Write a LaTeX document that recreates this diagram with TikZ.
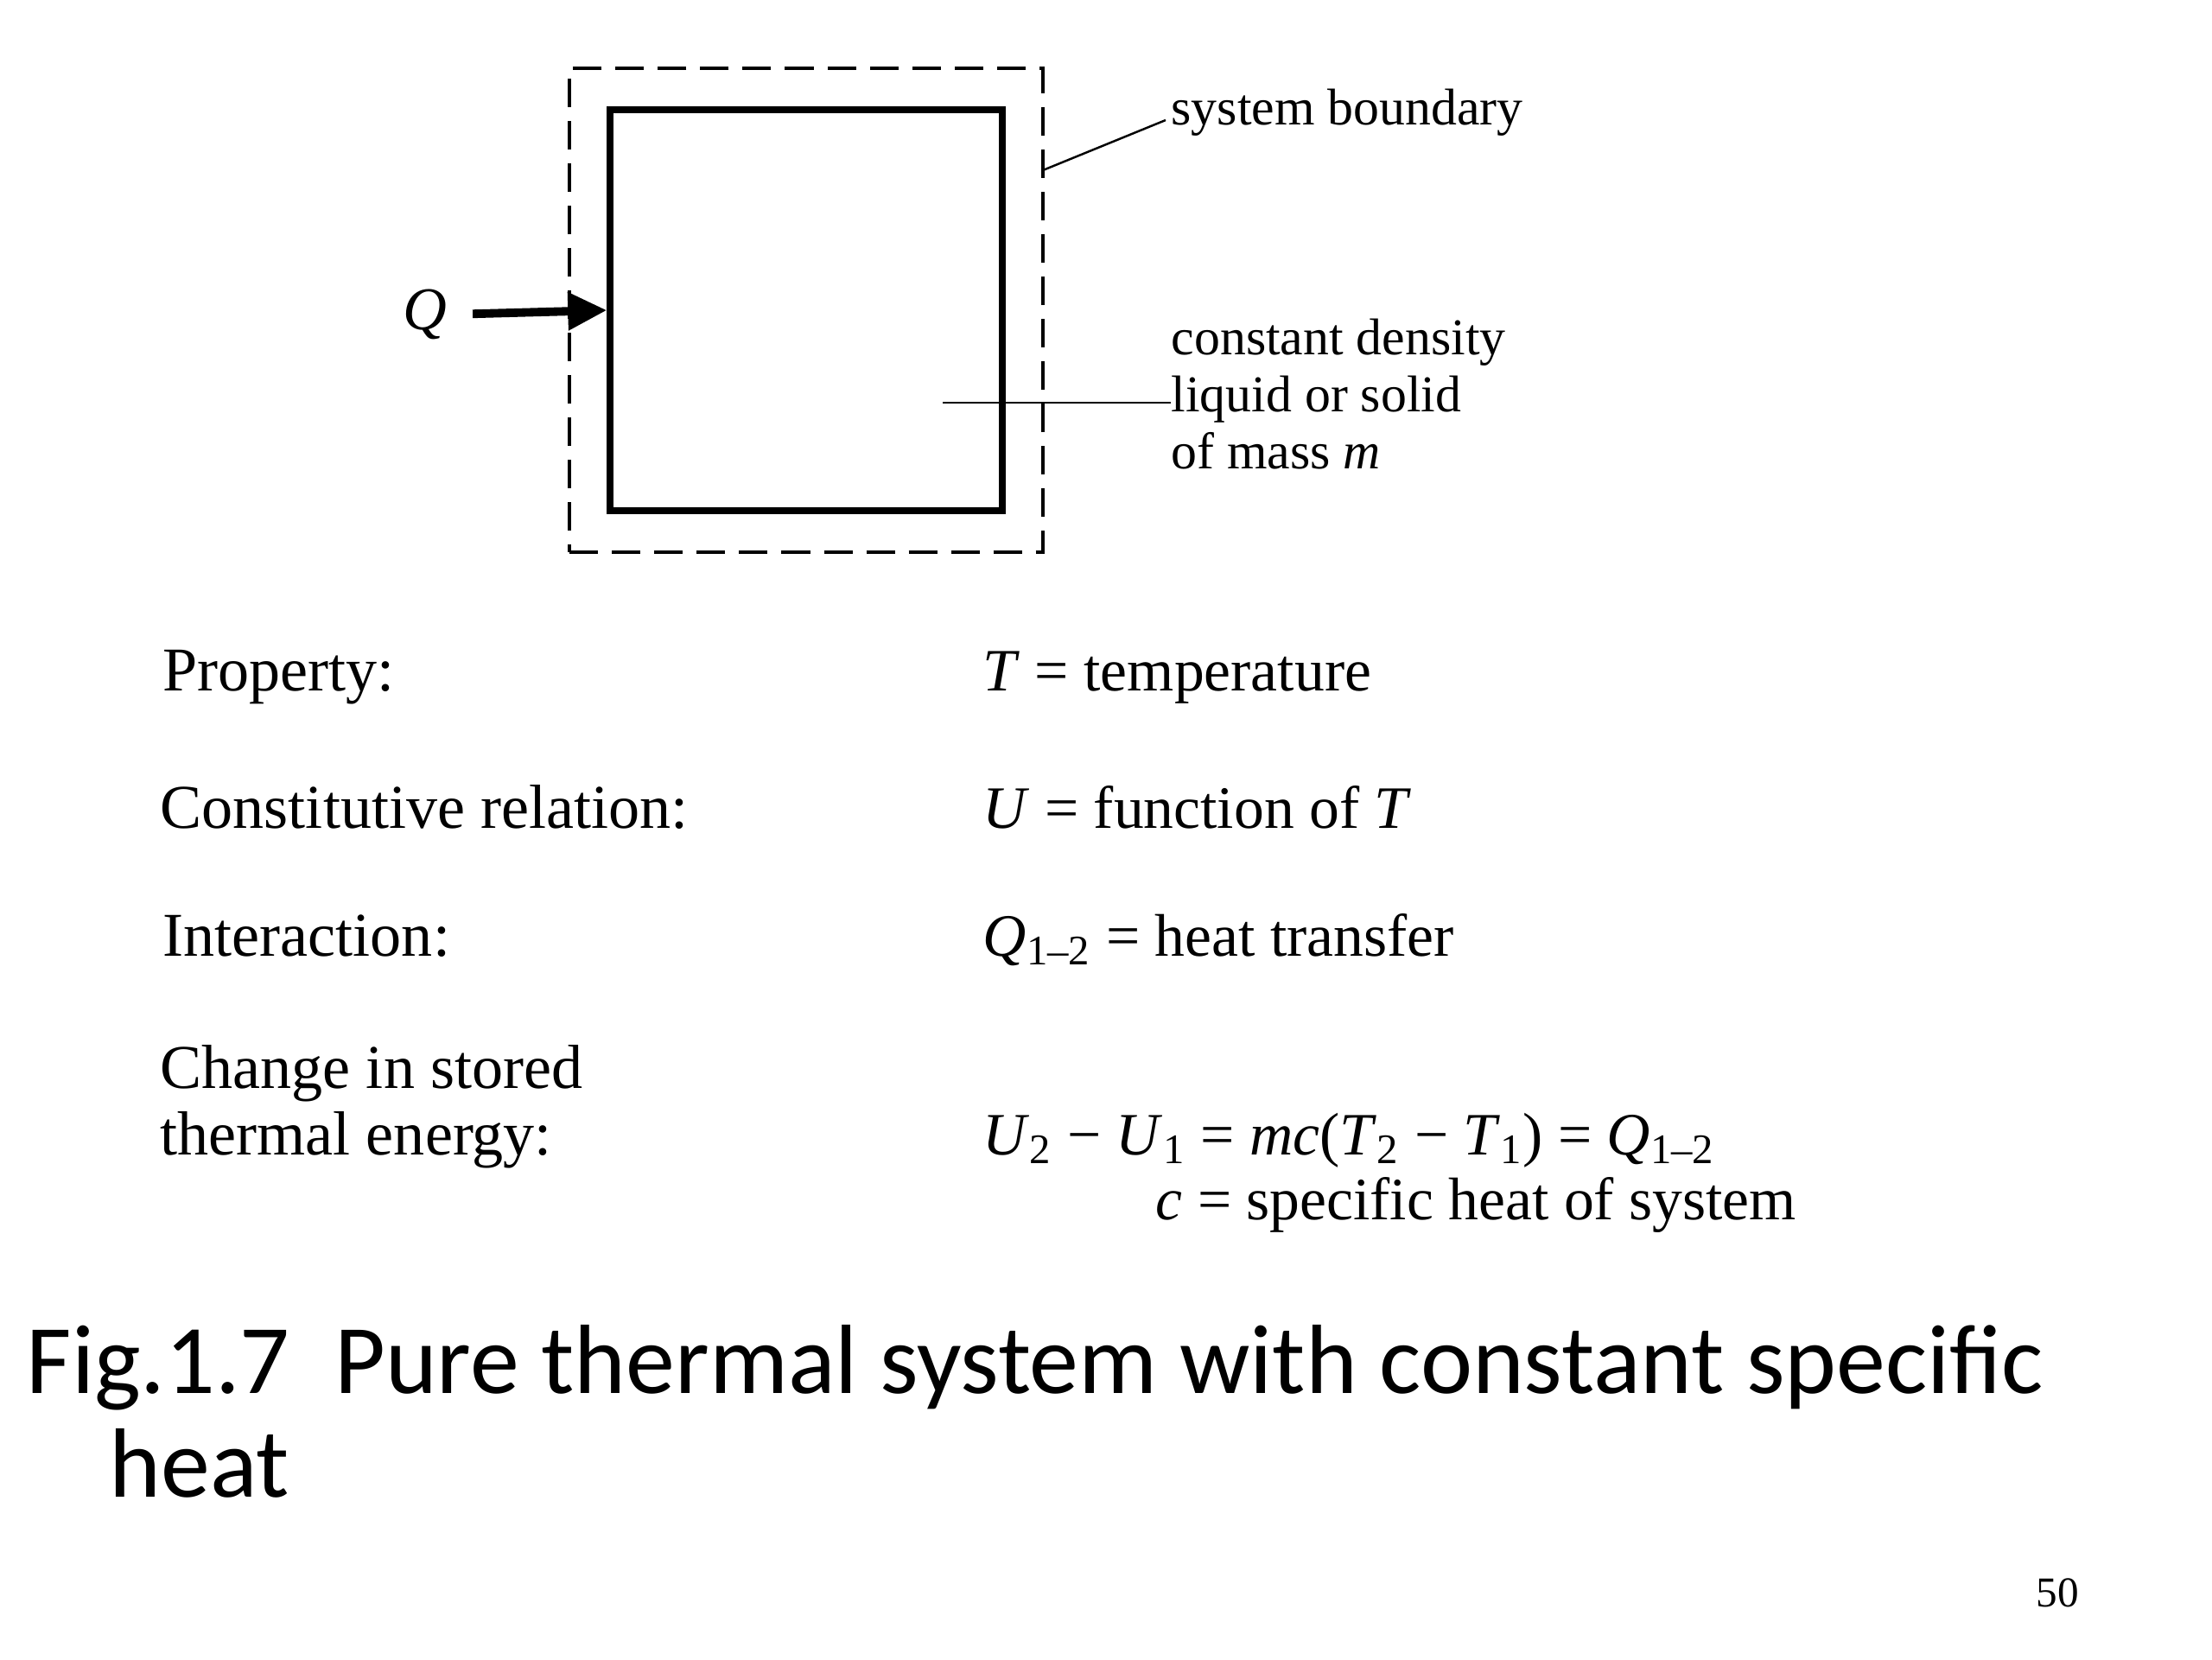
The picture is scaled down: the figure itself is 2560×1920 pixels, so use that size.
\documentclass[tikz,border=0pt]{standalone}
\usepackage{fontspec}
\setmainfont{Liberation Serif}
\newfontfamily\capfont{Carlito}
\usetikzlibrary{arrows.meta,positioning,calc}

\tikzset{
	wall/.style={draw,line width=2.3pt,inner sep=0pt},
	bound/.style={draw,line width=1.2pt,dash pattern=on 0.33cm off 0.16cm,inner sep=0pt},
	leader/.style={line width=0.7pt},
	heat/.style={line width=2.8pt,-{Triangle[length=0.45cm,width=0.42cm]}},
	lbl/.style={inner sep=0pt,font=\fontsize{17}{18.7}\selectfont,align=left},
	txt/.style={inner sep=0pt,anchor=base west,font=\fontsize{20.5}{21.9}\selectfont,align=left},
	rtxt/.style={txt,font=\fontsize{19.8}{21.9}\selectfont},
	captxt/.style={inner sep=0pt,anchor=base west,font=\capfont\fontsize{32.4}{32.4}\selectfont},
}

\begin{document}
\begin{tikzpicture}[x=0.01cm,y=-0.01cm]
	%\draw[help lines,step=100] (0,0) grid (2560,1920);
	\useasboundingbox (0,0) rectangle (2560,1920);

	\path
	coordinate (ctr) at (933,359)
	coordinate (bnd) at (1207,197)
	coordinate (inner) at (1091,466)
	coordinate (dens) at (1355,456)
	coordinate (col1) at (188,0)
	coordinate (col2) at (1137,0)
	;

	\node[bound,minimum width=5.47cm,minimum height=5.6cm] (boundary) at (ctr) {};
	\node[wall,minimum width=4.53cm,minimum height=4.63cm] (mass) at (ctr) {};

	\node[inner sep=0pt,font=\fontsize{20}{20}\selectfont] (Q) at (492,364) {\textit{Q}};
	\draw[heat,shorten <=0.29cm] (Q.east) -- (mass.west);

	\node[lbl,anchor=base west] (sysbnd) at (1355,144) {system boundary};
	\draw[leader] (bnd) -- ($(sysbnd.base west)+(-6,-5)$);

	\node[lbl,anchor=west] (massl) at (dens) {constant density\\liquid or solid\\of mass \textit{m}};
	\draw[leader] (inner) -- (massl.west |- inner);

	% table of relations
	\node[txt] (prop) at (col1 |- 0,799) {Property:};
	\node[txt] (const) at (185,958) {Constitutive relation:};
	\node[txt] (inter) at (col1 |- 0,1106) {Interaction:};
	\node[txt] (stored) at (185,1336) {Change in stored\\thermal energy:};

	\node[rtxt] (propr) at (col2 |- 0,799) {\textit{T} = temperature};
	\node[rtxt] (constr) at (col2 |- 0,958) {\textit{U} = function of \textit{T}};
	\node[rtxt] (interr) at (col2 |- 0,1106) {\textit{Q}\textsubscript{1–2} = heat transfer};
	\node[rtxt] (storedr) at (col2 |- 0,1336) {\textit{U}\textsubscript{2} − \textit{U}\textsubscript{1} = \textit{mc}(\textit{T}\textsubscript{2} − \textit{T}\textsubscript{1}) = \textit{Q}\textsubscript{1–2}};
	\node[rtxt] (spec) at (1337,1411) {\textit{c} = specific heat of system};

	% caption
	\node[captxt] (cap1) at (30,1612) {Fig.1.7\ \ Pure thermal system with constant specific};
	\node[captxt] (cap2) at (126,1732) {heat};

	\node[inner sep=0pt,anchor=base west,font=\fontsize{14}{14}\selectfont] (page) at (2356,1859) {50};

\end{tikzpicture}
\end{document}
